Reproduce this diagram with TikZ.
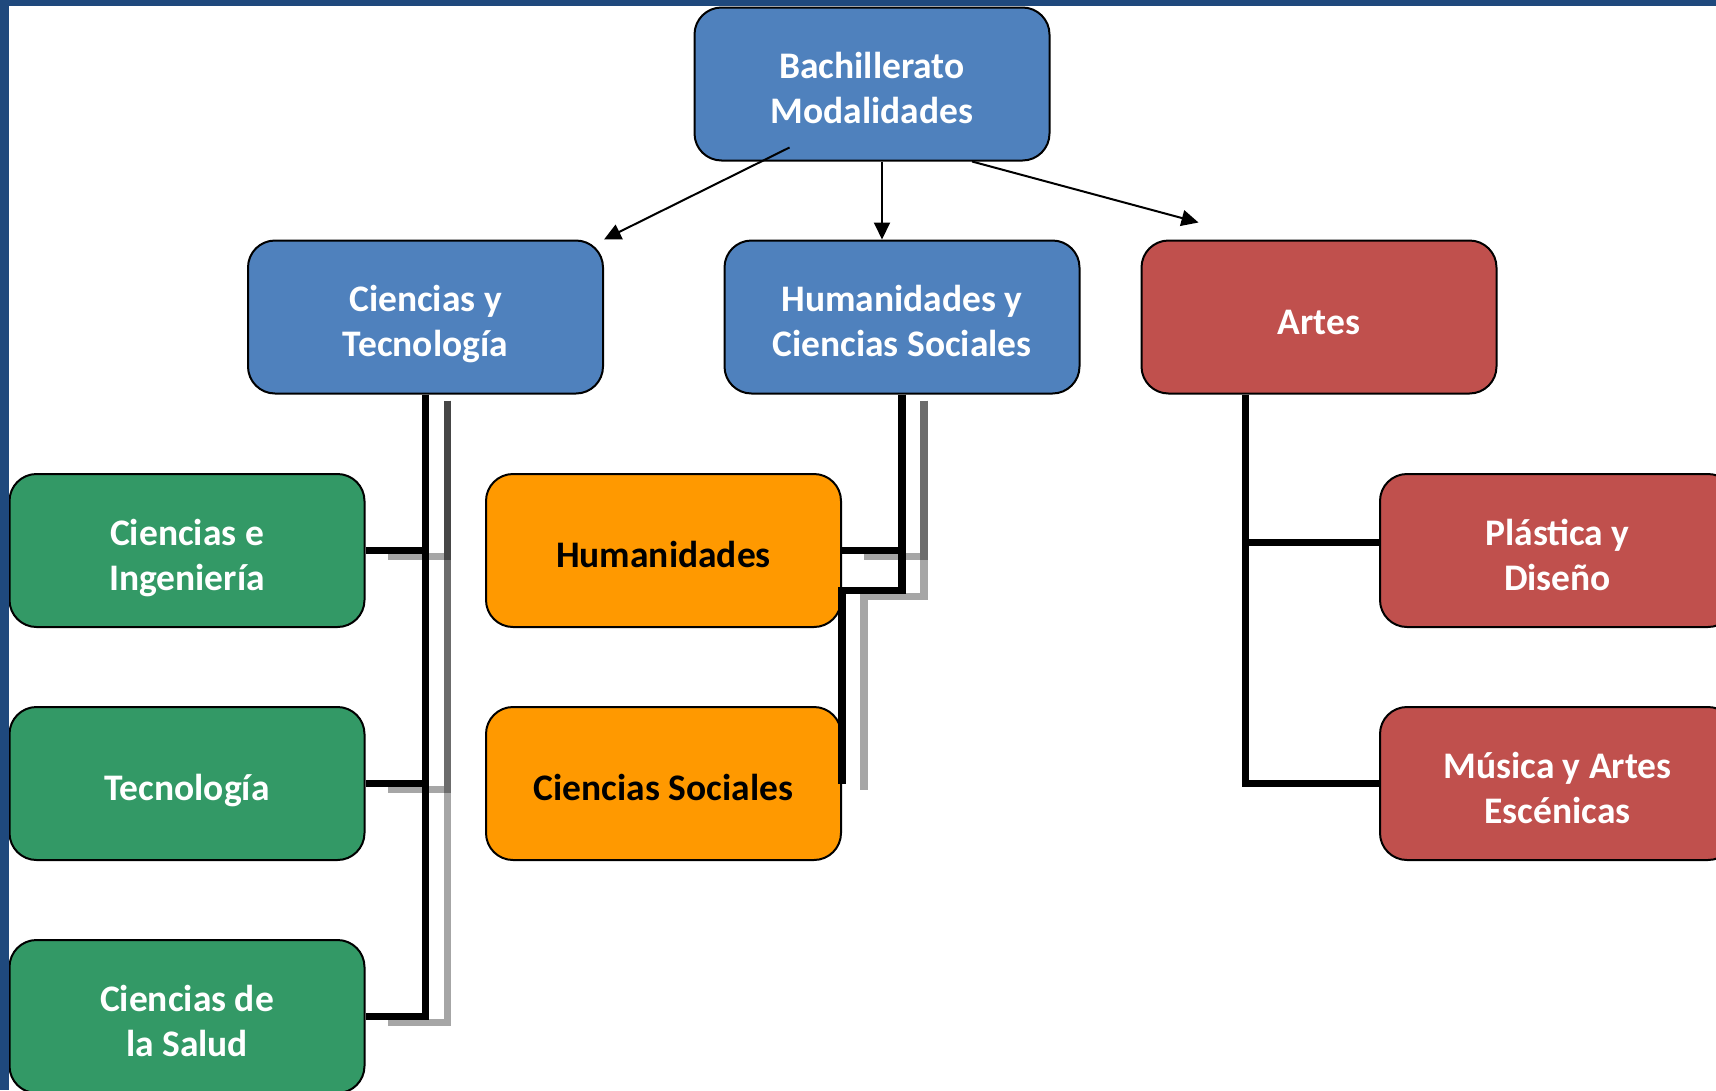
\documentclass[tikz,border=0pt]{standalone}
\usepackage{fontspec}
\setmainfont{Carlito}
\usetikzlibrary{arrows.meta,calc}
\definecolor{boxblue}{HTML}{4F81BD}
\definecolor{boxred}{HTML}{C0504D}
\definecolor{boxgreen}{HTML}{339966}
\definecolor{boxorange}{HTML}{FF9900}
\definecolor{framecol}{HTML}{1F497D}
\newcommand\celltxt[1]{\raisebox{-14.5pt}[0pt][0pt]{\begin{tabular}{@{}c@{}}#1\end{tabular}}}
\begin{document}
\begin{tikzpicture}[x=1pt,y=-1pt,
  box/.style={draw=black, line width=2pt, rounded corners=27pt,
    minimum width=355pt, minimum height=153pt, inner sep=0pt,
    font=\fontsize{37.5}{45}\selectfont\bfseries, text=white},
  bluebox/.style={box, fill=boxblue},
  redbox/.style={box, fill=boxred},
  greenbox/.style={box, fill=boxgreen},
  orangebox/.style={box, fill=boxorange, text=black},
  conn/.style={draw=black, line width=7.5pt},
  shadowline/.style={draw=black, opacity=0.35, line width=7.5pt,
    transform canvas={shift={(22pt,-6pt)}}},
  arr/.style={draw=black, line width=2pt, -{Triangle[length=17pt,width=16pt]}}]
\useasboundingbox (0,0) rectangle (1716,1090);
\fill[white] (0,0) rectangle (1716,1090);

% nodes
\node[bluebox] (top) at (872,84) {\celltxt{Bachillerato\\Modalidades}};
\node[bluebox] (ct) at (425.5,317) {\celltxt{Ciencias y\\Tecnología}};
\node[bluebox] (hcs) at (902,317) {\celltxt{Humanidades y\\Ciencias Sociales}};
\node[redbox] (artes) at (1319,317) {\celltxt{Artes}};
\node[greenbox] (cei) at (187,550.5) {\celltxt{Ciencias e\\Ingeniería}};
\node[greenbox] (tec) at (187,783.5) {\celltxt{Tecnología}};
\node[greenbox] (cds) at (187,1016.5) {\celltxt{Ciencias de\\la Salud}};
\node[orangebox] (hum) at (663.5,550.5) {\celltxt{Humanidades}};
\node[orangebox] (cs) at (663.5,783.5) {\celltxt{Ciencias Sociales}};
\node[redbox] (pla) at (1557.5,550.5) {\celltxt{Plástica y\\Diseño}};
\node[redbox] (mus) at (1557.5,783.5) {\celltxt{Música y Artes\\Escénicas}};

% shadows of connectors
\draw[shadowline] (ct.south) |- (cei.east);
\draw[shadowline] (ct.south) |- (tec.east);
\draw[shadowline] (ct.south) |- (cds.east);
\draw[shadowline] (hcs.south) |- (hum.east);
\draw[shadowline] (hcs.south) -- ++(0,196) -| (cs.east);

% connectors
\draw[conn] (ct.south) |- (cei.east);
\draw[conn] (ct.south) |- (tec.east);
\draw[conn] (ct.south) |- (cds.east);
\draw[conn] (hcs.south) |- (hum.east);
\draw[conn] (hcs.south) -- ++(0,196) -| (cs.east);
\coordinate (artroot) at ($(artes.south west)+(105,0)$);
\draw[conn] (artroot) |- ($(pla.west)+(0,-8)$);
\draw[conn] (artroot) |- (mus.west);

% arrows
\coordinate (a1s) at ($(top.south west)+(96,-14)$);
\draw[arr] (a1s) -- (ct.north east);
\draw[arr] ($(top.south)+(10,0)$) -- ($(hcs.north)+(-20,0)$);
\draw[arr] ($(top.south)+(100,0)$) -- ($(artes.north west)+(58,-17)$);

% frame
\fill[framecol] (0,0) rectangle (1716,6);
\fill[framecol] (0,0) rectangle (9,1090);
\end{tikzpicture}
\end{document}
